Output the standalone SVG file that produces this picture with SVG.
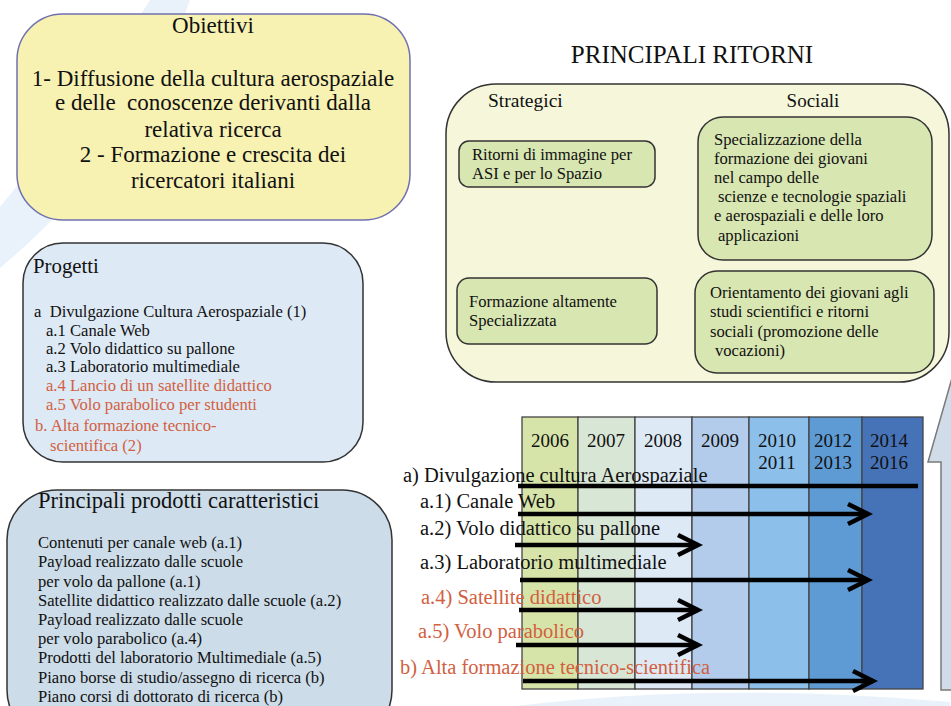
<svg xmlns="http://www.w3.org/2000/svg" width="951" height="706" viewBox="0 0 951 706">
<style>
text{font-family:"Liberation Serif","Times New Roman",serif;fill:#111}
.red{fill:#d2603f}
.box{stroke:#333;stroke-width:1.5}
.col{stroke:#444;stroke-width:1.3}
.arr{stroke:#000;stroke-width:4.5;fill:none}
.t23{font-size:23px}
.t17{font-size:16.6px}
.t20{font-size:20.5px}
.yr{font-size:19px;text-anchor:middle}
</style>
<defs>
<marker id="open" markerUnits="userSpaceOnUse" markerWidth="30" markerHeight="30" refX="22" refY="12" orient="auto" overflow="visible">
<path d="M2,2 L22,12 L2,22" fill="none" stroke="#000" stroke-width="4.5"/>
</marker>
</defs>
<rect width="951" height="706" fill="#fff"/>
<g id="background">
<path d="M150,0 L190,0 Q140,150 0,268 L0,207 Q80,110 150,0 Z" fill="#e9f2fb"/>
<path d="M485,710 Q700,680 950,702 L951,710 Z" fill="#e9f2fb"/>
</g>
<g id="obiettivi">
<rect x="17" y="14" width="393" height="206" rx="46" fill="#f7f2b2" stroke="#7070b0" stroke-width="1.5"/>
<text class="t23" x="213" y="33" text-anchor="middle">Obiettivi</text>
<text class="t23" x="213" y="86" text-anchor="middle">1- Diffusione della cultura aerospaziale</text>
<text class="t23" x="213" y="110" text-anchor="middle" xml:space="preserve">e delle  conoscenze derivanti dalla</text>
<text class="t23" x="213" y="137" text-anchor="middle">relativa ricerca</text>
<text class="t23" x="213" y="162" text-anchor="middle">2 - Formazione e crescita dei</text>
<text class="t23" x="213" y="188" text-anchor="middle">ricercatori italiani</text>
</g>
<g id="progetti">
<rect class="box" x="23" y="243" width="340" height="219" rx="40" fill="#dde9f5"/>
<text x="33" y="273" font-size="20.8px">Progetti</text>
<text class="t17" x="34" y="317" xml:space="preserve">a  Divulgazione Cultura Aerospaziale (1)</text>
<text class="t17" x="46" y="336">a.1 Canale Web</text>
<text class="t17" x="46" y="354">a.2 Volo didattico su pallone</text>
<text class="t17" x="46" y="372">a.3 Laboratorio multimediale</text>
<text class="t17 red" x="46" y="391">a.4 Lancio di un satellite didattico</text>
<text class="t17 red" x="46" y="410">a.5 Volo parabolico per studenti</text>
<text class="t17 red" x="35" y="431">b. Alta formazione tecnico-</text>
<text class="t17 red" x="50" y="451">scientifica (2)</text>
</g>
<g id="prodotti">
<rect class="box" x="7" y="490" width="385" height="250" rx="50" fill="#ccdce8"/>
<text x="38" y="508" font-size="22.5px">Principali prodotti caratteristici</text>
<text class="t17" x="38" y="548">Contenuti per canale web (a.1)</text>
<text class="t17" x="38" y="567">Payload realizzato dalle scuole</text>
<text class="t17" x="38" y="587">per volo da pallone (a.1)</text>
<text class="t17" x="38" y="606">Satellite didattico realizzato dalle scuole (a.2)</text>
<text class="t17" x="38" y="625">Payload realizzato dalle scuole</text>
<text class="t17" x="38" y="644">per volo parabolico (a.4)</text>
<text class="t17" x="38" y="663">Prodotti del laboratorio Multimediale (a.5)</text>
<text class="t17" x="38" y="683">Piano borse di studio/assegno di ricerca (b)</text>
<text class="t17" x="38" y="702">Piano corsi di dottorato di ricerca (b)</text>
</g>
<g id="ritorni">
<text x="692" y="63" font-size="25px" text-anchor="middle">PRINCIPALI RITORNI</text>
<rect class="box" x="446" y="84" width="503" height="298" rx="50" fill="#f5f6da"/>
<text x="488" y="107" font-size="19.5px">Strategici</text>
<text x="813" y="107" font-size="19px" text-anchor="middle">Sociali</text>
</g>
<g id="ritorno-immagine">
<rect class="box" x="459" y="141" width="196" height="46" rx="10" fill="#d8e6b2"/>
<text class="t17" x="472" y="160">Ritorni di immagine per</text>
<text class="t17" x="472" y="179">ASI e per lo Spazio</text>
</g>
<g id="ritorno-formazione">
<rect class="box" x="457" y="278" width="200" height="66" rx="12" fill="#d8e6b2"/>
<text class="t17" x="469" y="307">Formazione altamente</text>
<text class="t17" x="469" y="326">Specializzata</text>
</g>
<g id="ritorno-specializzazione">
<rect class="box" x="698" y="117" width="234" height="143" rx="25" fill="#d8e6b2"/>
<text class="t17" x="714" y="145">Specializzazione della</text>
<text class="t17" x="714" y="164">formazione dei giovani</text>
<text class="t17" x="714" y="183">nel campo delle</text>
<text class="t17" x="718" y="202">scienze e tecnologie spaziali</text>
<text class="t17" x="714" y="221">e aerospaziali e delle loro</text>
<text class="t17" x="718" y="241">applicazioni</text>
</g>
<g id="ritorno-orientamento">
<rect class="box" x="695" y="271" width="239" height="102" rx="22" fill="#d8e6b2"/>
<text class="t17" x="710" y="298">Orientamento dei giovani agli</text>
<text class="t17" x="710" y="317">studi scientifici e ritorni</text>
<text class="t17" x="710" y="337">sociali (promozione delle</text>
<text class="t17" x="715" y="356">vocazioni)</text>
</g>
<g id="freccia-su">
<path d="M941,690 L941,462 L928,462 L960,350 L960,690 Z" fill="#d0dde9" stroke="#7a7a7a" stroke-width="1.5"/>
</g>
<g id="timeline">
<rect class="col" x="522" y="417" width="56" height="272" fill="#d7e4a9"/>
<rect class="col" x="578" y="417" width="57" height="272" fill="#d8e6d6"/>
<rect class="col" x="635" y="417" width="57" height="272" fill="#dde9f5"/>
<rect class="col" x="692" y="417" width="57" height="272" fill="#b3cceb"/>
<rect class="col" x="749" y="417" width="60" height="272" fill="#8cbfea"/>
<rect class="col" x="809" y="417" width="53" height="272" fill="#5e9bd4"/>
<rect class="col" x="862" y="417" width="61" height="272" fill="#4673b8"/>
<text class="yr" x="550" y="447">2006</text>
<text class="yr" x="606" y="447">2007</text>
<text class="yr" x="663" y="447">2008</text>
<text class="yr" x="720" y="447">2009</text>
<text class="yr" x="777" y="447">2010</text>
<text class="yr" x="777" y="469">2011</text>
<text class="yr" x="833" y="447">2012</text>
<text class="yr" x="833" y="469">2013</text>
<text class="yr" x="889" y="447">2014</text>
<text class="yr" x="889" y="469">2016</text>
<text class="t20" x="403" y="482">a) Divulgazione cultura Aerospaziale</text>
<text class="t20" x="420" y="508">a.1) Canale Web</text>
<text class="t20" x="420" y="535">a.2) Volo didattico su pallone</text>
<text class="t20" x="420" y="569">a.3) Laboratorio multimediale</text>
<text class="t20 red" x="421" y="604">a.4) Satellite didattico</text>
<text class="t20 red" x="418" y="638">a.5) Volo parabolico</text>
<text class="t20 red" x="400" y="674">b) Alta formazione tecnico-scientifica</text>
</g>
<g id="connectors">
<line class="arr" x1="518" y1="486" x2="918" y2="486"/>
<line class="arr" x1="518" y1="514" x2="868" y2="514" marker-end="url(#open)"/>
<line class="arr" x1="515" y1="545" x2="698" y2="545" marker-end="url(#open)"/>
<line class="arr" x1="520" y1="580" x2="868" y2="580" marker-end="url(#open)"/>
<line class="arr" x1="519" y1="610" x2="698" y2="610" marker-end="url(#open)"/>
<line class="arr" x1="516" y1="645" x2="698" y2="645" marker-end="url(#open)"/>
<line class="arr" x1="523" y1="681" x2="873" y2="681" marker-end="url(#open)"/>
</g>
</svg>
